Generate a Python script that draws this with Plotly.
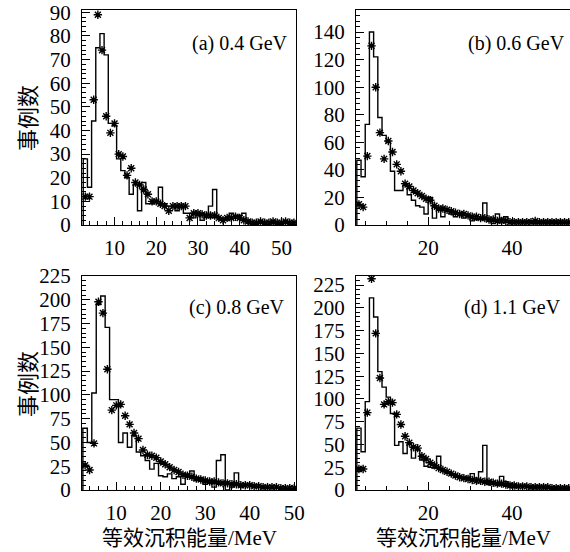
import plotly.graph_objects as go

FONT = "Liberation Serif, Noto Sans CJK SC, serif"

# ---------------- data ----------------
# panel (a) 0.4 GeV : bin centres (MeV)
energy_a = list(range(3, 54))
hist_a = [28, 16, 44, 75, 81, 72, 43, 42, 28, 23,
          20, 13, 17, 6, 18, 9, 9, 10, 16, 9,
          8, 8, 6, 8, 5, 5, 3, 4, 2, 4,
          8, 15, 3, 2, 3, 5, 4, 4, 5, 2,
          1, 0, 1, 1, 0, 1, 1, 0, 1, 1,
          0]
data_a = [12, 12, 53, 89, 74, 46, 39, 43, 30, 29,
          21, 24, 18, 17, 15, 13, 10, 10, 9, 8,
          6, 8, 8, 8, 8, 3, 5, 5, 4.5, 4,
          4, 4, 3, 2, 3, 3, 3.5, 3, 2, 1.5,
          1, 1, 1.5, 1, 1, 1.5, 1, 1, 1.5, 1,
          1]

# panel (b) 0.6 GeV
energy_b = [k + 0.5 for k in range(3, 54)]
hist_b = [47, 35, 73, 140, 122, 78, 65, 60, 39, 25,
          25, 29, 22, 18, 14, 13, 8, 20, 5, 12,
          6, 10, 8, 6, 8, 5, 6, 3, 4, 4,
          16, 3, 1, 8, 5, 6, 3, 3, 2, 2,
          2, 2, 1, 1, 2, 1, 1, 1, 1, 2,
          1]
data_b = [15, 13, 50, 130, 100, 67, 48, 61, 53, 44,
          39, 30, 28, 25, 23, 21, 19, 18, 14, 12,
          12, 11, 10, 9, 8, 8, 7, 6, 6, 5,
          5, 4, 4, 3, 3, 3, 2, 2, 2, 2,
          2, 2, 3, 2, 2, 2, 2, 2, 2, 2,
          2]

# panel (c) 0.8 GeV
energy_c = list(range(3, 51))
hist_c = [65, 50, 102, 195, 204, 171, 95, 95, 50, 60,
          45, 57, 40, 36, 31, 22, 28, 15, 14, 17,
          12, 14, 6, 17, 20, 10, 13, 6, 10, 3,
          31, 37, 0, 3, 18, 3, 5, 6, 4, 3,
          3, 2, 2, 2, 2, 2, 1, 1]
data_c = [26, 21, 49, 198, 186, 127, 84, 89, 90, 78,
          69, 60, 54, 42, 37, 36, 34, 30, 27, 24,
          21, 19, 16, 15, 14, 12, 11, 10, 9, 9,
          8, 7, 7, 6, 6, 5, 5, 5, 4, 4,
          3, 3, 3, 3, 2, 2, 2, 2]

# panel (d) 1.1 GeV
energy_d = [k + 0.5 for k in range(3, 54)]
hist_d = [68, 42, 97, 211, 190, 130, 113, 102, 84, 49,
          53, 40, 52, 35, 44, 33, 26, 25, 24, 37,
          21, 19, 18, 16, 14, 13, 14, 18, 13, 20,
          49, 6, 8, 6, 15, 9, 7, 6, 5, 5,
          4, 4, 3, 3, 3, 2, 2, 2, 2, 2,
          2]
data_d = [23, 23, 85, 232, 172, 123, 94, 97, 96, 83,
          72, 59, 52, 47, 46, 37, 34, 30, 27, 24,
          22, 20, 18, 16, 14, 13, 12, 11, 10, 10,
          9, 9, 8, 7, 7, 6, 5, 5, 4, 4,
          4, 3, 3, 3, 3, 3, 2, 2, 2, 2,
          2]

panel_labels = ["(a) 0.4 GeV", "(b) 0.6 GeV", "(c) 0.8 GeV", "(d) 1.1 GeV"]
y_title = "事例数"
x_title = "等效沉积能量/MeV"

# ---------------- layout geometry (pixels of a 570x552 canvas) ----------------
W, H = 570, 552


def px_x(v):
    return v / W


def px_y(v):
    return 1 - v / H


panels = [
    dict(x=energy_a, hist=hist_a, data=data_a, xr=[2.2, 53.5], yr=[0, 91],
         xd=[82, 296], yd=[10, 225], xdt=10, xmin=2, ydt=10, ymin=2, right=True),
    dict(x=energy_b, hist=hist_b, data=data_b, xr=[2.8, 53.8], yr=[0, 156],
         xd=[356, 570], yd=[10, 225], xdt=20, xmin=5, ydt=20, ymin=4, right=False),
    dict(x=energy_c, hist=hist_c, data=data_c, xr=[2.3, 50.4], yr=[0, 225],
         xd=[82, 296], yd=[276, 490], xdt=10, xmin=2, ydt=25, ymin=5, right=True),
    dict(x=energy_d, hist=hist_d, data=data_d, xr=[2.8, 53.8], yr=[0, 235],
         xd=[356, 570], yd=[276, 490], xdt=20, xmin=5, ydt=25, ymin=5, right=False),
]

fig = go.Figure()
layout = dict(
    width=W, height=H, autosize=False,
    margin=dict(l=0, r=0, t=0, b=0, pad=0),
    paper_bgcolor="white", plot_bgcolor="white",
    showlegend=False,
    font=dict(family=FONT, size=20, color="black"),
)

for i, p in enumerate(panels):
    n = "" if i == 0 else str(i + 1)
    xa, ya = "x" + n, "y" + n
    # step-outline histogram built from bin centres
    xs = [p["x"][0] - 0.5] + [c - 0.5 for c in p["x"]] + [p["x"][-1] + 0.5]
    ys = [0] + list(p["hist"]) + [0]
    fig.add_trace(go.Scatter(x=xs, y=ys, mode="lines", line_shape="hv",
                             line=dict(color="black", width=1.4),
                             xaxis=xa, yaxis=ya, hoverinfo="skip"))
    fig.add_trace(go.Scatter(x=p["x"], y=p["data"], mode="markers",
                             marker=dict(symbol="asterisk-open", size=7,
                                         color="black",
                                         line=dict(color="black", width=1.4)),
                             xaxis=xa, yaxis=ya, cliponaxis=True))
    common = dict(showgrid=False, zeroline=False, showline=True,
                  linecolor="black", linewidth=1.3, ticks="inside",
                  tickcolor="black", tickwidth=1, ticklen=8, automargin=False,
                  tickfont=dict(family=FONT, size=21, color="black"))
    layout["xaxis" + n] = dict(
        common, domain=[px_x(p["xd"][0]), px_x(p["xd"][1])],
        range=p["xr"], anchor=ya, mirror=True, tick0=0, dtick=p["xdt"],
        ticklabelstandoff=4,
        minor=dict(ticks="inside", dtick=p["xmin"], tick0=0, ticklen=4,
                   tickcolor="black", tickwidth=1, showgrid=False))
    layout["yaxis" + n] = dict(
        common, domain=[px_y(p["yd"][1]), px_y(p["yd"][0])],
        range=p["yr"], anchor=xa, mirror=p["right"], tick0=0, dtick=p["ydt"],
        ticklabelstandoff=6,
        minor=dict(ticks="inside", dtick=p["ymin"], tick0=0, ticklen=4,
                   tickcolor="black", tickwidth=1, showgrid=False))

annotations = []
label_pos = [(290, 43), (567, 43), (287, 307), (563, 307)]
for (lx, ly), txt in zip(label_pos, panel_labels):
    annotations.append(dict(text=txt, x=px_x(lx), y=px_y(ly), xref="paper",
                            yref="paper", xanchor="right", yanchor="middle",
                            showarrow=False,
                            font=dict(family=FONT, size=20, color="black")))
for cy in (118, 384):
    annotations.append(dict(text=y_title, x=px_x(28), y=px_y(cy), xref="paper",
                            yref="paper", xanchor="center", yanchor="middle",
                            textangle=-90, showarrow=False,
                            font=dict(family=FONT, size=22, color="black")))
for cx in (189, 463):
    annotations.append(dict(text=x_title, x=px_x(cx), y=px_y(538), xref="paper",
                            yref="paper", xanchor="center", yanchor="middle",
                            showarrow=False,
                            font=dict(family=FONT, size=21, color="black")))
layout["annotations"] = annotations

fig.update_layout(**layout)
fig.write_html("out.html",
               config={"displayModeBar": False},
               post_script="document.body.style.margin='0';"
                           "document.body.style.overflow='hidden';")
